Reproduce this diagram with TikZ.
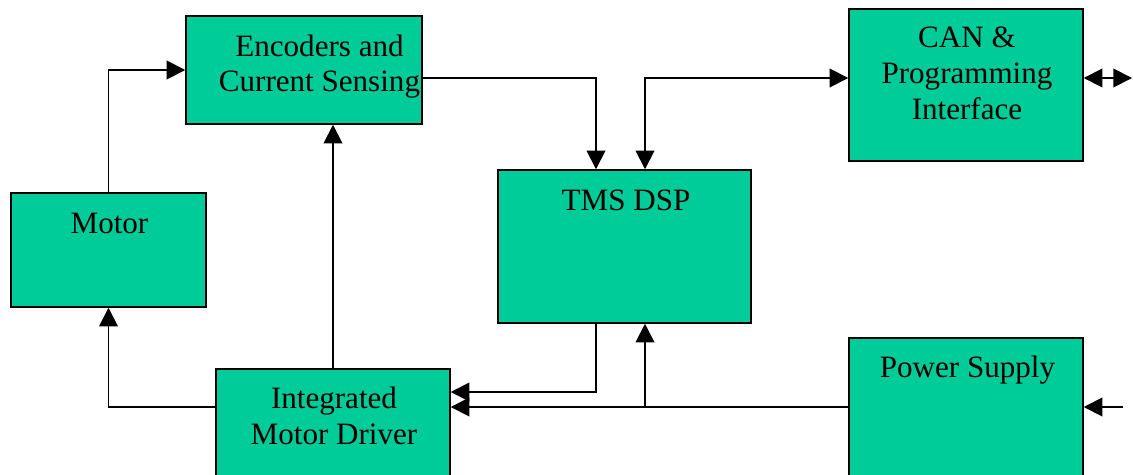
\documentclass[tikz,border=0pt]{standalone}
\usepackage{fontspec}
\setmainfont{Liberation Serif}
\usetikzlibrary{arrows.meta,fit}
\definecolor{boxgreen}{RGB}{0,204,153}
\begin{document}
\begin{tikzpicture}[x=0.75pt,y=-0.75pt,
  box/.style={draw=black, line width=1.1pt, fill=boxgreen, inner sep=0pt},
  lbl/.style={font=\fontsize{23.3}{27}\selectfont, anchor=base, inner sep=0pt},
  wire/.style={line width=1.4pt, -{Triangle[length=14pt,width=14pt]}},
  biwire/.style={line width=1.4pt, {Triangle[length=14pt,width=14pt]}-{Triangle[length=14pt,width=14pt]}}]
\useasboundingbox (0,0) rectangle (1133,475);

% boxes
\node[box, fit={(186,16) (422,124)}] (enc) {};
\node[box, fit={(849,9) (1083,161)}] (can) {};
\node[box, fit={(11,193) (206,307)}] (mot) {};
\node[box, fit={(498,170) (751,323)}] (tms) {};
\node[box, fit={(216,369) (450,495)}] (imd) {};
\node[box, fit={(849,338) (1083,495)}] (ps) {};

% labels
\node[lbl] (encA) at (319.5,56) {Encoders and};
\node[lbl] (encB) at (319.5,91.5) {Current Sensing};
\node[lbl] (canA) at (967,47.5) {CAN \&};
\node[lbl] (canB) at (967,83) {Programming};
\node[lbl] (canC) at (967,119) {Interface};
\node[lbl] (motA) at (109.5,233) {Motor};
\node[lbl] (tmsA) at (626,210) {TMS DSP};
\node[lbl] (imdA) at (334,408) {Integrated};
\node[lbl] (imdB) at (334,444) {Motor Driver};
\node[lbl] (psA) at (967.5,377) {Power Supply};

% helper coordinates
\coordinate (xA) at (596,78);
\coordinate (xB) at (645,78);
\coordinate (yBus) at (0,407);
\coordinate (yFb) at (0,392);
\coordinate (canR) at (1132,78);
\coordinate (psIn) at (1123,407);

% connectors
\draw[wire] (mot.north) |- (enc.west);
\draw[wire] (enc.east |- xA) -| (xA |- tms.north);
\draw[biwire] (xB |- tms.north) |- (can.west |- xB);
\draw[biwire] (can.east |- canR) -- (canR);
\draw[wire] (psIn) -- (ps.east |- psIn);
\draw[wire] (ps.west |- yBus) -- (imd.east |- yBus);
\draw[wire] (xB |- yBus) -- (xB |- tms.south);
\draw[wire] (xA |- tms.south) |- (imd.east |- yFb);
\draw[wire] (imd.north) -- (imd.north |- enc.south);
\draw[wire] (imd.west |- yBus) -| (mot.south);
\end{tikzpicture}
\end{document}
